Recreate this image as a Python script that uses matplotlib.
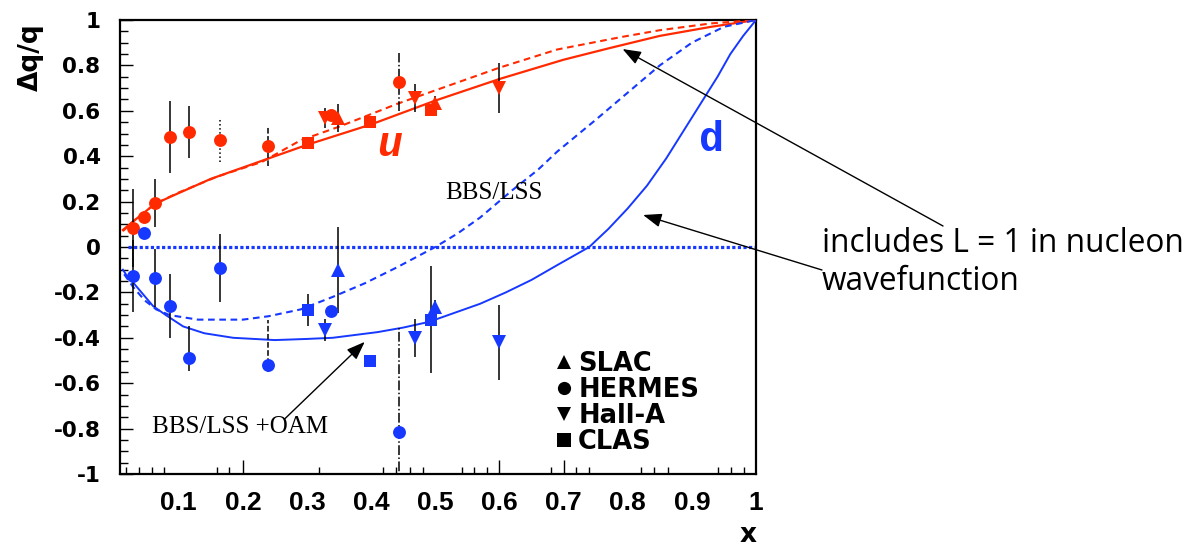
import matplotlib
matplotlib.use("Agg")
import matplotlib.pyplot as plt
from matplotlib.lines import Line2D
from matplotlib.ticker import FixedLocator, FixedFormatter

# ---------------- data ----------------
# HERMES
hermes_x = [0.029, 0.046, 0.063, 0.086, 0.116, 0.164, 0.239, 0.337, 0.444]
hermes_u = [0.084, 0.132, 0.194, 0.485, 0.507, 0.471, 0.445, 0.581, 0.727]
hermes_u_err = [0.17, 0.02, 0.105, 0.16, 0.115, 0.095, 0.09, 0.02, 0.128]
hermes_d = [-0.128, 0.06, -0.137, -0.26, -0.488, -0.093, -0.52, -0.28, -0.815]
hermes_d_err_lo = [0.16, 0.02, 0.127, 0.14, 0.06, 0.15, 0.03, 0.02, 0.46]
hermes_d_err_hi = [0.16, 0.02, 0.127, 0.14, 0.14, 0.15, 0.20, 0.02, 0.46]

# Hall-A
halla_x = [0.328, 0.469, 0.599]
halla_u = [0.568, 0.656, 0.700]
halla_u_err = [0.044, 0.063, 0.11]
halla_d = [-0.366, -0.400, -0.420]
halla_d_err = [0.05, 0.083, 0.165]

# SLAC
slac_x = [0.348, 0.499]
slac_u = [0.568, 0.634]
slac_u_err = [0.06, 0.03]
slac_d = [-0.100, -0.265]
slac_d_err = [0.19, 0.03]

# CLAS
clas_x = [0.301, 0.399, 0.493]
clas_u = [0.458, 0.551, 0.604]
clas_u_err = [0.02, 0.02, 0.02]
clas_d = [-0.277, -0.502, -0.320]
clas_d_err = [0.07, 0.02, 0.235]

# model curves: BBS/LSS (dashed) and BBS/LSS + OAM (solid)
u_oam_x = [0.013, 0.03, 0.063, 0.09, 0.15, 0.24, 0.30, 0.40, 0.50, 0.60, 0.70, 0.77, 0.85, 0.93, 1.0]
u_oam_y = [0.075, 0.115, 0.19, 0.225, 0.30, 0.39, 0.45, 0.54, 0.645, 0.74, 0.825, 0.875, 0.93, 0.97, 1.0]
u_bbs_x = [0.013, 0.03, 0.063, 0.10, 0.16, 0.23, 0.29, 0.35, 0.44, 0.51, 0.60, 0.69, 0.79, 0.85, 0.93, 1.0]
u_bbs_y = [0.07, 0.115, 0.19, 0.24, 0.31, 0.375, 0.47, 0.53, 0.63, 0.70, 0.79, 0.87, 0.925, 0.955, 0.985, 1.0]
d_bbs_x = [0.015, 0.03, 0.047, 0.065, 0.086, 0.13, 0.2, 0.24, 0.29, 0.34, 0.39, 0.44, 0.5,
           0.535, 0.57, 0.62, 0.66, 0.69, 0.72, 0.75, 0.80, 0.85, 0.90, 0.95, 1.0]
d_bbs_y = [-0.12, -0.18, -0.235, -0.275, -0.30, -0.32, -0.32, -0.305, -0.275, -0.22, -0.16, -0.09, 0.0,
           0.06, 0.13, 0.25, 0.34, 0.42, 0.49, 0.56, 0.68, 0.80, 0.90, 0.97, 1.0]
d_oam_x = [0.013, 0.02, 0.03, 0.045, 0.06, 0.08, 0.107, 0.14, 0.185, 0.25, 0.30, 0.34, 0.41, 0.45,
           0.49, 0.53, 0.57, 0.61, 0.65, 0.69, 0.74, 0.77, 0.80, 0.83, 0.86, 0.88, 0.90, 0.92,
           0.94, 0.96, 0.98, 1.0]
d_oam_y = [-0.10, -0.13, -0.16, -0.21, -0.26, -0.30, -0.35, -0.38, -0.40, -0.41, -0.405, -0.40,
           -0.375, -0.355, -0.33, -0.29, -0.25, -0.20, -0.145, -0.08, 0.0, 0.08, 0.17, 0.27,
           0.39, 0.48, 0.57, 0.66, 0.75, 0.85, 0.93, 1.0]

x_tick_values = [0.1, 0.2, 0.3, 0.4, 0.5, 0.6, 0.7, 0.8, 0.9, 1.0]
x_tick_labels = ["0.1", "0.2", "0.3", "0.4", "0.5", "0.6", "0.7", "0.8", "0.9", "1"]
x_short_ticks = [0.018, 0.038, 0.058, 0.077, 0.159, 0.178, 0.30, 0.319, 0.419, 0.439,
                 0.461, 0.481, 0.541, 0.56, 0.58, 0.681, 0.719, 0.739, 0.82, 0.841,
                 0.863, 0.941, 0.961, 0.981]
x_long_ticks = [0.2, 0.6, 0.7]
y_tick_values = [-1, -0.8, -0.6, -0.4, -0.2, 0, 0.2, 0.4, 0.6, 0.8, 1]
y_tick_labels = ["-1", "-0.8", "-0.6", "-0.4", "-0.2", "0", "0.2", "0.4", "0.6", "0.8", "1"]

legend_labels = ["SLAC", "HERMES", "Hall-A", "CLAS"]

# ---------------- style ----------------
RED = "#ff2a00"
BLUE = "#1638ff"
W, H, DPI = 1194, 547, 100

fig = plt.figure(figsize=(W / DPI, H / DPI), dpi=DPI)
ax = fig.add_axes([120 / W, 1 - 474 / H, (756 - 120) / W, (474 - 20) / H])
ax.set_xlim(0.0085, 1.0)
ax.set_ylim(-1, 1)

# zero reference line
ax.axhline(0, xmin=0.012, xmax=1.0, color=BLUE, lw=2.3, ls=(0, (1.0, 0.75)), zorder=2)

# model curves
ax.plot(u_bbs_x, u_bbs_y, color=RED, lw=1.5, ls=(0, (3.2, 2.2)), zorder=3)
ax.plot(u_oam_x, u_oam_y, color=RED, lw=1.6, zorder=3)
ax.plot(d_bbs_x, d_bbs_y, color=BLUE, lw=1.5, ls=(0, (3.2, 2.2)), zorder=3)
ax.plot(d_oam_x, d_oam_y, color=BLUE, lw=1.4, zorder=3)


def bars(x, y, lo, hi, styles=None):
    cont = ax.errorbar(x, y, yerr=[lo, hi], fmt="none", ecolor="black",
                       elinewidth=1.1, capsize=0, zorder=4)
    if styles is not None:
        cont.lines[2][0].set_linestyles(styles)


styles_u = ["-", "-", "-", "-", "-", ":", "--", "-", "-."]
styles_d = ["-", "-", "-", "-", "-", "-", "--", "-", "-."]
bars(hermes_x, hermes_u, hermes_u_err, hermes_u_err, styles_u)
bars(hermes_x, hermes_d, hermes_d_err_lo, hermes_d_err_hi, styles_d)
bars(halla_x, halla_u, halla_u_err, halla_u_err)
bars(halla_x, halla_d, halla_d_err, halla_d_err)
bars(slac_x, slac_u, slac_u_err, slac_u_err)
bars(slac_x, slac_d, slac_d_err, slac_d_err)
bars(clas_x, clas_u, clas_u_err, clas_u_err)
bars(clas_x, clas_d, clas_d_err, clas_d_err)

mk = dict(ls="none", mew=0, zorder=5)
for col, u_or_d in ((RED, "u"), (BLUE, "d")):
    ax.plot(hermes_x, hermes_u if u_or_d == "u" else hermes_d, marker="o", ms=9.3, color=col, **mk)
    ax.plot(clas_x, clas_u if u_or_d == "u" else clas_d, marker="s", ms=9.0, color=col, **mk)
    ax.plot(halla_x, halla_u if u_or_d == "u" else halla_d, marker="v", ms=10, color=col, **mk)
    ax.plot(slac_x, slac_u if u_or_d == "u" else slac_d, marker="^", ms=10, color=col, **mk)

# axes / ticks
for s in ax.spines.values():
    s.set_linewidth(1.6)
ax.xaxis.set_major_locator(FixedLocator(x_tick_values))
ax.xaxis.set_major_formatter(FixedFormatter(x_tick_labels))
ax.xaxis.set_minor_locator(FixedLocator(x_short_ticks))
ax.tick_params(axis="x", which="major", length=0, pad=12)
ax.tick_params(axis="x", which="minor", direction="in", length=5, width=1)
for lab in ax.get_xticklabels():
    lab.set_family(["Liberation Sans Narrow", "Liberation Sans"])
    lab.set_fontweight("bold")
    lab.set_fontsize(19)

sec = ax.secondary_xaxis("bottom")
sec.xaxis.set_major_locator(FixedLocator(x_long_ticks))
sec.tick_params(direction="in", length=10, width=1, labelbottom=False)
sec.spines["bottom"].set_visible(False)

ax.yaxis.set_major_locator(FixedLocator(y_tick_values))
ax.yaxis.set_major_formatter(FixedFormatter(y_tick_labels))
ax.yaxis.set_minor_locator(FixedLocator([v / 20 for v in range(-20, 21)]))
ax.tick_params(axis="y", which="major", direction="in", length=9.5, width=1, pad=14)
ax.tick_params(axis="y", which="minor", direction="in", length=5.5, width=1)
for lab in ax.get_yticklabels():
    lab.set_family("DejaVu Sans")
    lab.set_fontweight("bold")
    lab.set_fontsize(15.5)

fig.text(31 / W, 1 - 57 / H, "Δq/q", rotation=90, ha="center", va="center",
         fontsize=19, fontweight="bold", family="DejaVu Sans")
fig.text(748 / W, 1 - 535 / H, "x", ha="center", va="center",
         fontsize=19, fontweight="bold", family="DejaVu Sans")

# legend
handles = [Line2D([], [], marker=m, color="black", ls="none", ms=9.5, mew=0)
           for m in ("^", "o", "v", "s")]
ax.legend(handles, legend_labels, loc="upper left", bbox_to_anchor=(0.684, 0.27),
          frameon=False, handlelength=0.7, handletextpad=0.2, labelspacing=0.0,
          borderpad=0, borderaxespad=0,
          prop=dict(family="DejaVu Sans", weight="bold", size=18.5))

# curve labels
ax.text(0.429, 0.45, "u", color=RED, fontsize=30, fontweight="bold", fontstyle="italic",
        family="Liberation Mono", ha="center", va="center")
ax.text(0.93, 0.47, "d", color=BLUE, fontsize=30, fontweight="bold",
        family="Liberation Mono", ha="center", va="center")
ax.text(0.592, 0.238, "BBS/LSS", fontsize=18, family="Liberation Serif",
        ha="center", va="center")
ax.text(0.195, -0.793, "BBS/LSS +OAM", fontsize=18, family="Liberation Serif",
        ha="center", va="center")

# arrows
arrow = dict(arrowstyle="-|>,head_length=0.8,head_width=0.3", color="black", lw=1.0,
             mutation_scale=14, shrinkA=0, shrinkB=0)
ax.annotate("", xy=(0.792, 0.872), xycoords="data", xytext=(943, H - 226),
            textcoords="figure pixels", arrowprops=arrow, annotation_clip=False)
ax.annotate("", xy=(0.824, 0.141), xycoords="data", xytext=(822, H - 270),
            textcoords="figure pixels", arrowprops=arrow, annotation_clip=False)
ax.annotate("", xy=(0.39, -0.418), xycoords="data", xytext=(0.265, -0.758),
            textcoords="data", arrowprops=arrow)

fig.text(822 / W, 1 - 244 / H, "includes L = 1 in nucleon", ha="left", va="center",
         fontsize=22.8, family="Open Sans")
fig.text(822 / W, 1 - 281 / H, "wavefunction", ha="left", va="center",
         fontsize=22.8, family="Open Sans")

fig.savefig("out.png", dpi=DPI)
